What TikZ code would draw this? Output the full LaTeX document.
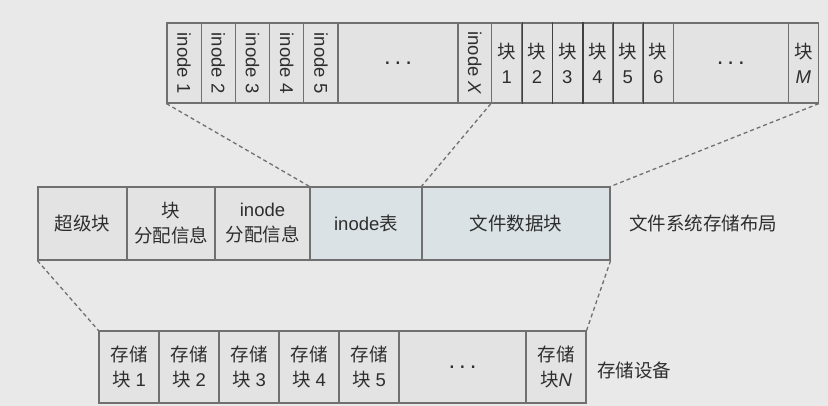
\documentclass[tikz,border=0pt]{standalone}
\usepackage{fontspec}
\setmainfont{Liberation Sans}
\newfontfamily\cjk{Noto Sans CJK SC}
\newcommand\zh[1]{{\cjk #1}}
\newcommand\celldots{{\fontsize{24}{24}\selectfont .\hspace{4pt}.\hspace{4pt}.}}
\definecolor{bg}{HTML}{E9E9E9}
\definecolor{cellgrey}{HTML}{E3E3E3}
\definecolor{cellblue}{HTML}{DAE2E5}
\definecolor{edge}{HTML}{707070}
\definecolor{ink}{HTML}{2E2E2E}
\tikzset{
  cell/.style={draw=edge, line width=1.2pt, fill=cellgrey, inner sep=0pt, align=center,
    text=ink, font=\fontsize{18.5}{25}\selectfont},
  inocell/.style={cell, minimum height=80pt},
  blkcell/.style={cell, minimum height=80pt, minimum width=30.3pt},
  blksep/.style={draw=black!75, line width=1.5pt},
  fscell/.style={cell, minimum height=73pt},
  devcell/.style={cell, minimum height=72pt, minimum width=60pt},
  guide/.style={draw=edge, line width=1.3pt, dash pattern=on 4pt off 3pt},
  caption/.style={anchor=west, inner sep=0pt, text=ink, font=\fontsize{18.5}{22}\selectfont\cjk}
}
\begin{document}
\begin{tikzpicture}[x=1pt, y=-1pt]
\fill[bg] (0,0) rectangle (828,406);
\useasboundingbox (0,0) rectangle (828,406);

% inode table and data blocks
\node[inocell, minimum width=34.2pt] (ino1) at (184.1,63) {\rotatebox{-90}{inode 1}};
\node[inocell, minimum width=34.2pt] (ino2) at (218.3,63) {\rotatebox{-90}{inode 2}};
\node[inocell, minimum width=34.2pt] (ino3) at (252.5,63) {\rotatebox{-90}{inode 3}};
\node[inocell, minimum width=34.2pt] (ino4) at (286.7,63) {\rotatebox{-90}{inode 4}};
\node[inocell, minimum width=34.2pt] (ino5) at (320.9,63) {\rotatebox{-90}{inode 5}};
\node[inocell, minimum width=120pt] (inodots) at (398,63) {\celldots};
\node[inocell, minimum width=33.5pt] (inoX) at (474.75,63) {\rotatebox{-90}{inode \textit{X}}};
\node[blkcell] (blk1) at (506.65,63) {\zh{块}\\1};
\node[blkcell] (blk2) at (536.95,63) {\zh{块}\\2};
\node[blkcell] (blk3) at (567.25,63) {\zh{块}\\3};
\node[blkcell] (blk4) at (597.55,63) {\zh{块}\\4};
\node[blkcell] (blk5) at (627.85,63) {\zh{块}\\5};
\node[blkcell] (blk6) at (658.15,63) {\zh{块}\\6};
\node[inocell, minimum width=115pt] (blkdots) at (730.8,63) {\celldots};
\node[inocell, minimum width=30pt] (blkM) at (803.3,63) {\zh{块}\\\textit{M}};
\draw[blksep] (blk1.north east) -- (blk1.south east);
\draw[blksep] (blk2.north east) -- (blk2.south east);
\draw[blksep] (blk3.north east) -- (blk3.south east);
\draw[blksep] (blk4.north east) -- (blk4.south east);
\draw[blksep] (blk5.north east) -- (blk5.south east);

% file system layout
\node[fscell, minimum width=89pt] (sb) at (82.5,223.5) {\zh{超级块}};
\node[fscell, minimum width=88pt] (bmap) at (171,223.5) {\zh{块}\\\zh{分配信息}};
\node[fscell, minimum width=95pt] (imap) at (262.5,223.5) {inode\\\zh{分配信息}};
\node[fscell, fill=cellblue, minimum width=112pt] (itab) at (366,223.5) {inode\zh{表}};
\node[fscell, fill=cellblue, minimum width=188pt] (data) at (516,223.5) {\zh{文件数据块}};
\node[caption] (fslabel) at (629,223) {文件系统存储布局};

% storage device
\node[devcell] (dev1) at (129,367) {\zh{存储}\\\zh{块} 1};
\node[devcell] (dev2) at (189,367) {\zh{存储}\\\zh{块} 2};
\node[devcell] (dev3) at (249,367) {\zh{存储}\\\zh{块} 3};
\node[devcell] (dev4) at (309,367) {\zh{存储}\\\zh{块} 4};
\node[devcell] (dev5) at (369,367) {\zh{存储}\\\zh{块} 5};
\node[devcell, minimum width=127pt] (devdots) at (462.5,367) {\celldots};
\node[devcell] (devN) at (556,367) {\zh{存储}\\\zh{块}\textit{N}};
\node[caption] (devlabel) at (597,370) {存储设备};

\draw[guide] (ino1.south west) -- (itab.north west);
\draw[guide] (blk1.south west) -- (data.north west);
\draw[guide] (blkM.south east) -- (data.north east);
\draw[guide] (sb.south west) -- (dev1.north west);
\draw[guide] (data.south east) -- (devN.north east);
\end{tikzpicture}
\end{document}
